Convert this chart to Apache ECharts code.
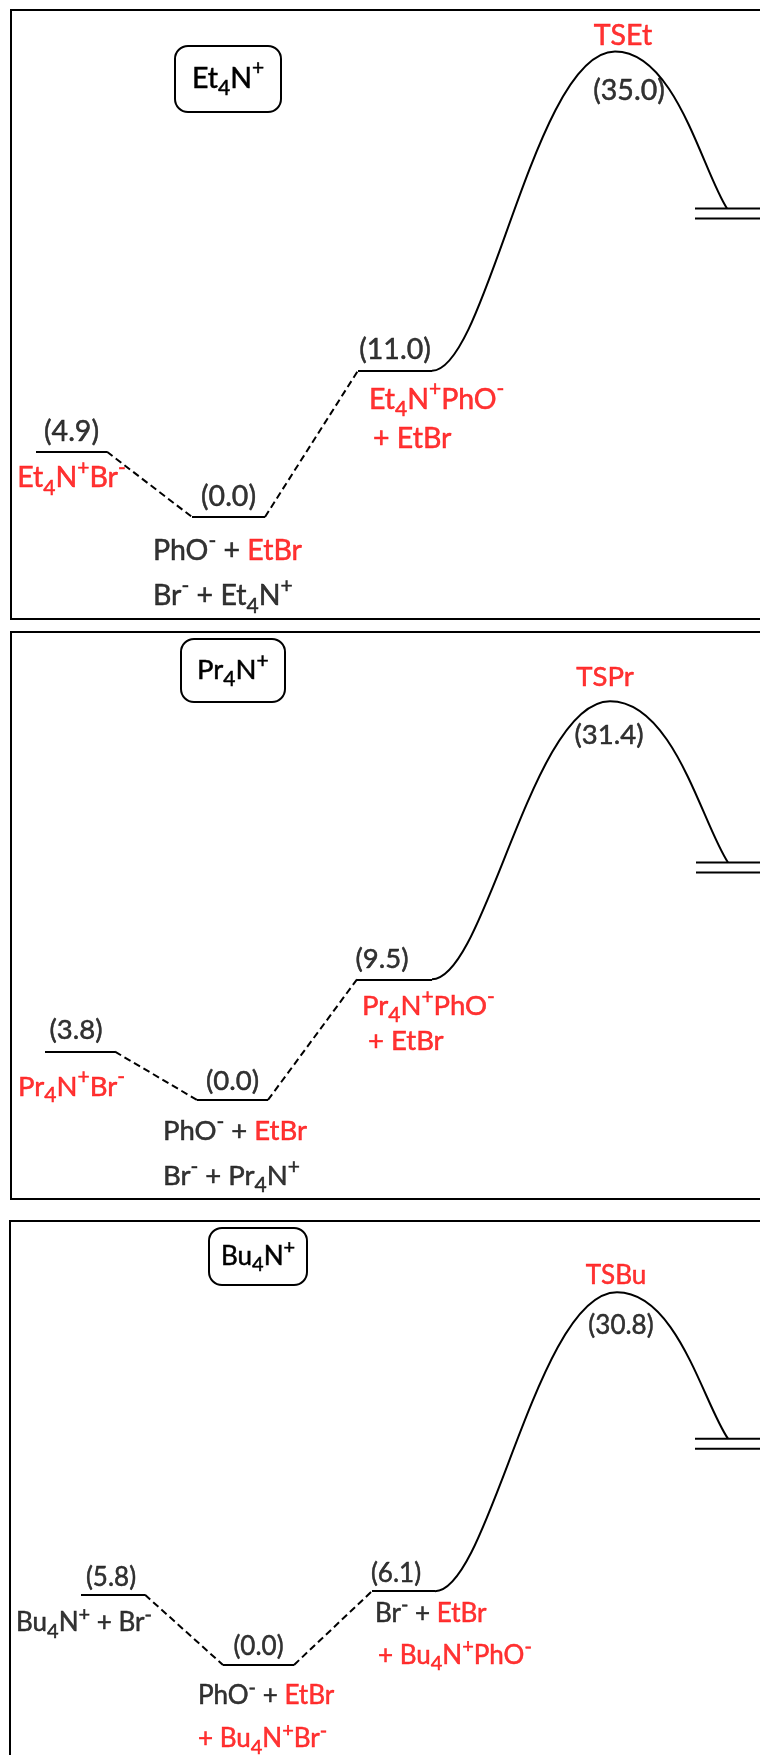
<!DOCTYPE html>
<html>
<head>
<meta charset="utf-8">
<script src="https://cdn.jsdelivr.net/npm/echarts@6/dist/echarts.min.js"></script>
<style>
html,body{margin:0;padding:0;background:#fff;}
#chart{width:760px;height:1755px;}
</style>
</head>
<body>
<div id="chart"></div>
<script>
// ===================== DATA =====================
// cation shown in each panel's box
const boxLabels = ['Et_4N^+', 'Pr_4N^+', 'Bu_4N^+'];
const tsLabels = ['TSEt', 'TSPr', 'TSBu'];
// relative energies of: ion pair, free ions (0.0), ion pair + EtBr, TS, product (cut off)
const energyEt = [4.9, 0.0, 11.0, 35.0, 23.2];
const energyPr = [3.8, 0.0, 9.5, 31.4, 18.7];
const energyBu = [5.8, 0.0, 6.1, 30.8, 18.7];
// reaction coordinate: A start, A end, B start, B end, C start, C end, TS, product (curve end), product level start
const rcEt = [2.5, 9.6, 18.1, 25.4, 34.7, 42.1, 60.4, 71.6, 68.4];
const rcPr = [3.4, 10.4, 18.6, 25.7, 34.6, 42.1, 59.9, 71.7, 68.5];
const rcBu = [7.1, 13.5, 21.3, 28.4, 36.2, 42.5, 60.7, 71.8, 68.5];
// species names: segments [text, colour]; _x = subscript, ^x = superscript
const speciesEt = [
  [['Et_4N^+Br^-', 'r']],
  [['PhO^- + ', 'k'], ['EtBr', 'r']],
  [['Br^- + Et_4N^+', 'k']],
  [['Et_4N^+PhO^-', 'r']],
  [['+ EtBr', 'r']]
];
const speciesPr = [
  [['Pr_4N^+Br^-', 'r']],
  [['PhO^- + ', 'k'], ['EtBr', 'r']],
  [['Br^- + Pr_4N^+', 'k']],
  [['Pr_4N^+PhO^-', 'r']],
  [['+ EtBr', 'r']]
];
const speciesBu = [
  [['Bu_4N^+ + Br^-', 'k']],
  [['PhO^- + ', 'k'], ['EtBr', 'r']],
  [['+ Bu_4N^+Br^-', 'r']],
  [['Br^- + ', 'k'], ['EtBr', 'r']],
  [['+ Bu_4N^+PhO^-', 'r']]
];
// stage (0 = A, 1 = B, 2 = C) each species line belongs to
const speciesStage = [0, 1, 1, 2, 2];

// ===================== LAYOUT / STYLE =====================
const FONT = 'Lato';
const COLORS = { k: '#000000', r: '#ff0000' };
const fontSizes = [28.5, 27.5, 26];
const grids = [
  { left: 11, top: 10, width: 770, height: 609 },
  { left: 11, top: 632, width: 770, height: 567 },
  { left: 10, top: 1221, width: 770, height: 560 }
];
const yRanges = [[-7.67, 38.12], [-7.80, 36.85], [-9.59, 36.69]];
const boxLayout = [
  { left: 175, top: 46, padding: [12, 17, 13, 17] },
  { left: 181, top: 639, padding: [12, 16, 12, 16] },
  { left: 209, top: 1228, padding: [10, 12, 10, 12] }
];
const valueOffsets = [
  [[0, -20], [0, -20], [0, -21]],
  [[-4, -22], [0, -19], [-12.5, -20]],
  [[-2, -17], [0, -18], [-7.5, -18]]
];
const tsOffsets = [
  { name: [8, -16], value: [14, 39] },
  { name: [-5, -24], value: [-1, 34] },
  { name: [-1, -17], value: [4, 33] }
];
// [offset, align] for each species line
const speciesOffsets = [
  [[[0, 26], 'center'], [[-75.5, 34], 'left'], [[-75.5, 79], 'left'], [[-26, 29], 'left'], [[-22, 68], 'left']],
  [[[-8.5, 35], 'center'], [[-69.5, 31], 'left'], [[-69.5, 76], 'left'], [[-32.5, 27], 'left'], [[-26.5, 62], 'left']],
  [[[-97, 28], 'left'], [[-60.5, 31], 'left'], [[-60.5, 74], 'left'], [[-28.5, 22], 'left'], [[-25.5, 64], 'left']]
];
// curve handle lengths (fractions of segment width / height)
const CURVE = { riseStart: 0.30, riseEnd: 0.44, fallStart: 0.54, fallEndX: 0.22, fallEndY: 0.24, breakGap: 10 };

function makeRich(fs) {
  const sfs = Math.round(fs * 0.75);
  const lh = Math.round(fs * 1.43);
  const o = {};
  Object.keys(COLORS).forEach(function (n) {
    const base = { color: COLORS[n], fontFamily: FONT, fontWeight: 'normal', textBorderColor: COLORS[n], textBorderWidth: 0.5 };
    o[n] = Object.assign({}, base, { fontSize: fs, lineHeight: lh });
    o[n + 's'] = Object.assign({}, base, { fontSize: sfs, lineHeight: Math.round(lh * 0.5), verticalAlign: 'bottom' });
    o[n + 'p'] = Object.assign({}, base, { fontSize: sfs, lineHeight: Math.round(lh * 0.65), verticalAlign: 'top' });
  });
  return o;
}
function chem(parts) {
  let out = '';
  parts.forEach(function (seg) {
    const txt = seg[0], c = seg[1];
    let buf = '';
    for (let i = 0; i < txt.length; i++) {
      const ch = txt[i];
      if ((ch === '_' || ch === '^') && i + 1 < txt.length) {
        if (buf) { out += '{' + c + '|' + buf + '}'; buf = ''; }
        out += '{' + c + (ch === '_' ? 's' : 'p') + '|' + txt[i + 1] + '}';
        i++;
      } else {
        buf += ch;
      }
    }
    if (buf) out += '{' + c + '|' + buf + '}';
  });
  return out;
}

function renderBarrier(params, api) {
  const c0 = api.coord([api.value(0), api.value(1)]);
  const ts = api.coord([api.value(2), api.value(3)]);
  const pe = api.coord([api.value(4), api.value(5)]);
  const d0 = api.coord([api.value(6), api.value(5)]);
  const d1 = api.coord([api.value(7), api.value(5)]);
  const dx1 = ts[0] - c0[0];
  const dx2 = pe[0] - ts[0], dy2 = pe[1] - ts[1];
  const f = function (v) { return v.toFixed(2); };
  const d = 'M' + f(c0[0]) + ' ' + f(c0[1]) +
    ' C' + f(c0[0] + CURVE.riseStart * dx1) + ' ' + f(c0[1]) + ' ' +
    f(ts[0] - CURVE.riseEnd * dx1) + ' ' + f(ts[1]) + ' ' + f(ts[0]) + ' ' + f(ts[1]) +
    ' C' + f(ts[0] + CURVE.fallStart * dx2) + ' ' + f(ts[1]) + ' ' +
    f(pe[0] - CURVE.fallEndX * dx2) + ' ' + f(pe[1] - CURVE.fallEndY * dy2) + ' ' + f(pe[0]) + ' ' + f(pe[1]);
  const st = { stroke: '#000', lineWidth: 2, fill: null };
  const g = CURVE.breakGap;
  return {
    type: 'group',
    children: [
      { type: 'path', shape: { pathData: d }, style: st },
      { type: 'line', shape: { x1: d0[0], y1: d0[1], x2: d1[0], y2: d1[1] }, style: st },
      { type: 'line', shape: { x1: d0[0], y1: d0[1] + g, x2: d1[0], y2: d1[1] + g }, style: st }
    ]
  };
}

const panelData = [
  { e: energyEt, rc: rcEt, sp: speciesEt },
  { e: energyPr, rc: rcPr, sp: speciesPr },
  { e: energyBu, rc: rcBu, sp: speciesBu }
];

const option = {
  animation: false,
  backgroundColor: '#ffffff',
  textStyle: { fontFamily: FONT, color: '#000' },
  grid: grids.map(function (g) {
    return Object.assign({
      show: true, borderColor: '#000', borderWidth: 2, backgroundColor: 'transparent',
      containLabel: false, outerBoundsMode: 'none'
    }, g);
  }),
  xAxis: grids.map(function (g, i) {
    return { type: 'value', gridIndex: i, min: 0, max: 77, show: false };
  }),
  yAxis: grids.map(function (g, i) {
    return { type: 'value', gridIndex: i, min: yRanges[i][0], max: yRanges[i][1], show: false };
  }),
  title: boxLabels.map(function (b, i) {
    return {
      text: chem([[b, 'k']]),
      left: boxLayout[i].left, top: boxLayout[i].top, padding: boxLayout[i].padding,
      borderColor: '#000', borderWidth: 2, borderRadius: 13,
      textStyle: { fontWeight: 'normal', color: '#000', rich: makeRich(fontSizes[i]) }
    };
  }),
  series: []
};

panelData.forEach(function (p, i) {
  const e = p.e, rc = p.rc;
  const rich = makeRich(fontSizes[i]);
  const axes = { xAxisIndex: i, yAxisIndex: i };
  // plateaus
  option.series.push(Object.assign({
    type: 'lines', coordinateSystem: 'cartesian2d', silent: true, polyline: false,
    lineStyle: { color: '#000', width: 2, opacity: 1, curveness: 0 },
    data: [0, 1, 2].map(function (k) { return { coords: [[rc[2 * k], e[k]], [rc[2 * k + 1], e[k]]] }; })
  }, axes));
  // dashed connectors
  option.series.push(Object.assign({
    type: 'lines', coordinateSystem: 'cartesian2d', silent: true, polyline: false,
    lineStyle: { color: '#000', width: 2, opacity: 1, curveness: 0, type: [7, 4] },
    data: [0, 1].map(function (k) { return { coords: [[rc[2 * k + 1], e[k]], [rc[2 * k + 2], e[k + 1]]] }; })
  }, axes));
  // barrier curve + cut-off product level
  option.series.push(Object.assign({
    type: 'custom', coordinateSystem: 'cartesian2d', silent: true,
    renderItem: renderBarrier,
    data: [[rc[5], e[2], rc[6], e[3], rc[7], e[4], rc[8], 80]]
  }, axes));
  // labels
  const lab = [];
  [0, 1, 2].forEach(function (k) {
    lab.push({
      value: [(rc[2 * k] + rc[2 * k + 1]) / 2, e[k]],
      txt: '{k|(' + e[k].toFixed(1) + ')}',
      label: { offset: valueOffsets[i][k], align: 'center' }
    });
  });
  lab.push({ value: [rc[6], e[3]], txt: '{r|' + tsLabels[i] + '}', label: { offset: tsOffsets[i].name, align: 'center' } });
  lab.push({ value: [rc[6], e[3]], txt: '{k|(' + e[3].toFixed(1) + ')}', label: { offset: tsOffsets[i].value, align: 'center' } });
  p.sp.forEach(function (s, j) {
    const k = speciesStage[j];
    lab.push({
      value: [(rc[2 * k] + rc[2 * k + 1]) / 2, e[k]],
      txt: chem(s),
      label: { offset: speciesOffsets[i][j][0], align: speciesOffsets[i][j][1] }
    });
  });
  option.series.push(Object.assign({
    type: 'scatter', silent: true, symbolSize: 0,
    label: {
      show: true, position: 'inside', verticalAlign: 'middle', color: '#000',
      formatter: function (prm) { return prm.data.txt; },
      rich: rich
    },
    data: lab
  }, axes));
});

const chart = echarts.init(document.getElementById('chart'), null, { renderer: 'canvas' });
chart.setOption(option);
</script>
</body>
</html>
